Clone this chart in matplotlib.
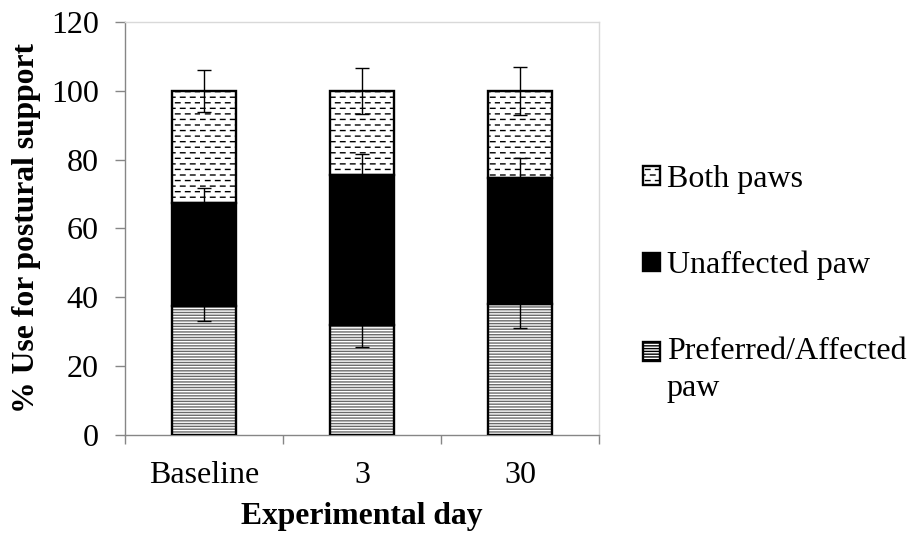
import warnings
import numpy as np
import matplotlib
matplotlib.use("Agg")
import matplotlib.pyplot as plt
import matplotlib.hatch as mhatch
from matplotlib.path import Path
from matplotlib.patches import Rectangle
from matplotlib.legend_handler import HandlerPatch

warnings.filterwarnings("ignore")

days = ["Baseline", "3", "30"]
preferred = [37.4, 32.0, 38.1]
unaffected = [30.1, 43.4, 36.7]
both = [32.5, 24.6, 25.2]
preferred_err = [4.2, 6.4, 7.1]
unaffected_err = [4.2, 6.1, 5.8]
both_err = [6.1, 6.6, 6.9]
labels = ["Both paws", "Unaffected paw", "Preferred/Affected\npaw"]


class DashHatch(mhatch.HatchPatternBase):
    # staggered short dashes, like the Excel "dashed horizontal" fill
    def __init__(self, hatch, density):
        self.num_rows = hatch.count("d") * density * 3
        self.per_row = 10
        self.num_vertices = self.num_rows * self.per_row * 2

    def set_vertices_and_codes(self, vertices, codes):
        i = 0
        for r in range(self.num_rows):
            y = (r + 0.5) / self.num_rows
            shift = 0.5 * (r % 2)
            for k in range(self.per_row):
                x0 = (k + shift + 0.05) / self.per_row
                vertices[i] = (x0, y)
                vertices[i + 1] = (x0 + 0.45 / self.per_row, y)
                codes[i] = Path.MOVETO
                codes[i + 1] = Path.LINETO
                i += 2


mhatch._hatch_types.append(DashHatch)

plt.rcParams["font.family"] = ["Liberation Serif", "DejaVu Serif"]
plt.rcParams["hatch.linewidth"] = 1.0

fig = plt.figure(figsize=(9.1, 5.36), dpi=100)
ax = fig.add_axes([0.1374, 0.1884, 0.5208, 0.7706])

x = np.arange(len(days))
w = 0.405
pref_top = np.array(preferred)
unaff_top = pref_top + np.array(unaffected)
both_top = unaff_top + np.array(both)

# hatch layer then outline layer
ax.bar(x, preferred, w, color="white", edgecolor="#6a6a6a", hatch="------", linewidth=0, zorder=2)
ax.bar(x, preferred, w, fill=False, edgecolor="black", linewidth=1.7, zorder=3)
ax.bar(x, unaffected, w, bottom=pref_top, color="black", edgecolor="black", linewidth=1.7, zorder=3)
ax.bar(x, both, w, bottom=unaff_top, color="white", edgecolor="black", hatch="d", linewidth=0, zorder=2)
ax.bar(x, both, w, bottom=unaff_top, fill=False, edgecolor="black", linewidth=1.7, zorder=3)

for tops, err in [(pref_top, preferred_err), (unaff_top, unaffected_err), (both_top, both_err)]:
    ax.errorbar(x, tops, yerr=err, fmt="none", ecolor="black", elinewidth=1.0,
                capsize=5, capthick=1.0, zorder=5)

ax.set_ylim(0, 120)
ax.set_yticks(range(0, 121, 20))
ax.set_xlim(-0.5, 2.5)
ax.set_xticks([-0.5, 0.5, 1.5, 2.5])
ax.set_xticklabels([])
ax.set_xticks(x, minor=True)
ax.set_xticklabels(days, minor=True)
ax.tick_params(axis="x", which="minor", length=0, pad=19, labelsize=23)
ax.tick_params(axis="x", which="major", length=6.5, width=1, color="#868686", direction="out")
ax.tick_params(axis="y", length=7, width=1, color="#868686", pad=12, labelsize=23)

for side in ["left", "bottom"]:
    ax.spines[side].set_color("#868686")
    ax.spines[side].set_linewidth(1.0)
for side in ["top", "right"]:
    ax.spines[side].set_color("#d9d9d9")
    ax.spines[side].set_linewidth(1.0)

ax.set_xlabel("Experimental day", fontsize=22.8, fontweight="bold", labelpad=8)
ax.set_ylabel("% Use for postural support", fontsize=22.8, fontweight="bold")
ax.yaxis.set_label_coords(-0.178, 0.5)

h_both = Rectangle((0, 0), 1, 1, facecolor="white", edgecolor="black", hatch="d", linewidth=1.7)
h_unaff = Rectangle((0, 0), 1, 1, facecolor="black", edgecolor="black", linewidth=1.7)
h_pref = Rectangle((0, 0), 1, 1, facecolor="white", edgecolor="black", hatch="------", linewidth=1.7)


def raised_patch(legend, orig_handle, xdescent, ydescent, width, height, fontsize):
    # put the key next to the first line of a two-line label
    return Rectangle((-xdescent, -ydescent + 13.0), width, height)


leg = fig.legend([h_both, h_unaff, h_pref], labels, loc="upper left",
                 bbox_to_anchor=(0.7066, 0.693), frameon=False, fontsize=23,
                 handlelength=0.53, handleheight=0.53, handletextpad=0.22,
                 labelspacing=1.79, borderpad=0, borderaxespad=0,
                 handler_map={h_pref: HandlerPatch(patch_func=raised_patch)})
leg.get_texts()[2].set_linespacing(1.35)

fig.savefig("out.png", dpi=100)
